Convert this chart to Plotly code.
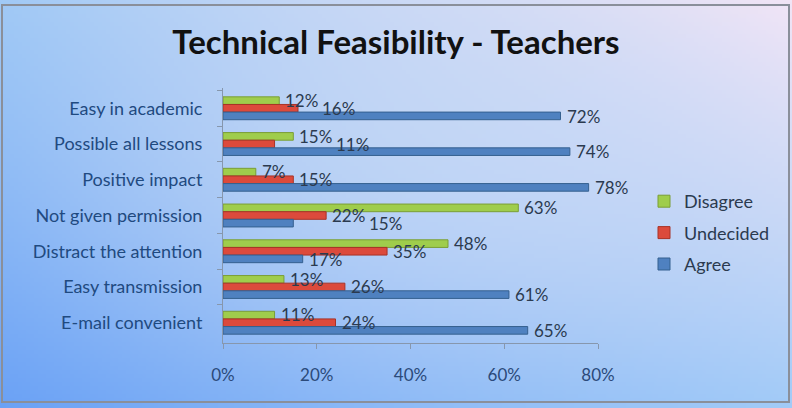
import base64, struct, zlib
import numpy as np
import plotly.graph_objects as go

categories = ["Easy in academic", "Possible all lessons", "Positive impact",
              "Not given permission", "Distract the attention",
              "Easy transmission", "E-mail convenient"]
disagree = [0.12, 0.15, 0.07, 0.63, 0.48, 0.13, 0.11]
undecided = [0.16, 0.11, 0.15, 0.22, 0.35, 0.26, 0.24]
agree = [0.72, 0.74, 0.78, 0.15, 0.17, 0.61, 0.65]
x_ticks = [0, 0.2, 0.4, 0.6, 0.8]

W, H = 792, 408
ML, MR, MT, MB = 223, 194, 88, 65
PW, PH = W - ML - MR, H - MT - MB
XMAX = 0.8
BARGAP = 0.36
LABEL_SIZE = 17


def gradient_png(w, h):
    xs = np.linspace(0, 1, w)[None, :]
    ys = np.linspace(0, 1, h)[:, None]
    tl = np.array([158, 200, 245.0])
    tr = np.array([246, 230, 246.0])
    bl = np.array([104, 160, 245.0])
    br = np.array([160, 202, 248.0])
    img = (tl * ((1 - xs) * (1 - ys))[..., None] + tr * (xs * (1 - ys))[..., None]
           + bl * ((1 - xs) * ys)[..., None] + br * (xs * ys)[..., None])
    bump = np.exp(-(((xs - 0.55) / 0.45) ** 2 + ((ys - 0.4) / 0.5) ** 2))[..., None]
    img = img + bump * (np.array([205, 222, 246.0]) - img) * 0.55
    img = np.clip(img, 0, 255).astype(np.uint8)
    raw = b"".join(b"\x00" + img[r].tobytes() for r in range(h))

    def chunk(t, d):
        c = struct.pack(">I", len(d)) + t + d
        return c + struct.pack(">I", zlib.crc32(t + d) & 0xffffffff)
    png = b"\x89PNG\r\n\x1a\n" + chunk(b"IHDR", struct.pack(">IIBBBBB", w, h, 8, 2, 0, 0, 0))
    png += chunk(b"IDAT", zlib.compress(raw, 9)) + chunk(b"IEND", b"")
    return "data:image/png;base64," + base64.b64encode(png).decode()


series = [("Disagree", disagree, "#9fcd4c", "#7a9e35"),
          ("Undecided", undecided, "#dc4a3c", "#a83226"),
          ("Agree", agree, "#4f81c0", "#35608f")]

fig = go.Figure()
for name, vals, col, edge in series:
    fig.add_trace(go.Bar(
        y=categories, x=vals, name=name, orientation="h",
        marker=dict(color=col, line=dict(color=edge, width=1)),
        legendgroup=name, hoverinfo="x+y+name",
    ))

# value labels: placed at bar ends, nudged right when they would collide
bar_px = PH / len(categories) * (1 - BARGAP) / len(series)


def text_w(s):
    return sum(0.82 if ch == "%" else 0.58 for ch in s) * LABEL_SIZE


annotations = []
for ci, cat in enumerate(categories):
    placed = []
    for si, (name, vals, col, edge) in enumerate(series):
        v = vals[ci]
        txt = f"{round(v * 100)}%"
        w = text_w(txt)
        yc = (1 - si) * bar_px
        x0 = v / XMAX * PW + 4
        moved = True
        while moved:
            moved = False
            for (p0, p1, py) in placed:
                if abs(py - yc) < LABEL_SIZE * 1.05 and x0 < p1 and x0 + w > p0:
                    x0 = p1 + 3
                    moved = True
        placed.append((x0, x0 + w, yc))
        annotations.append(dict(
            x=v, y=cat, xref="x", yref="y", text=txt, showarrow=False,
            xanchor="left", yanchor="middle",
            xshift=x0 - v / XMAX * PW, yshift=yc,
            font=dict(family="Lato", size=LABEL_SIZE, color="#2b3a4f")))

fig.update_layout(
    width=W, height=H,
    margin=dict(l=ML, r=MR, t=MT, b=MB),
    paper_bgcolor="#a8cdf5", plot_bgcolor="rgba(0,0,0,0)",
    barmode="group", bargap=BARGAP, bargroupgap=0,
    title=dict(text="<b>Technical Feasibility - Teachers</b>", x=0.5, xref="container",
               xanchor="center", y=1 - 42 / H, yanchor="middle",
               font=dict(family="Lato", size=33, color="#111111")),
    legend=dict(x=(644 - ML) / PW, xanchor="left", y=1 - (183 - MT) / PH, yanchor="top",
                font=dict(family="Lato", size=18, color="#2b3a4f"),
                bgcolor="rgba(0,0,0,0)", tracegroupgap=5, itemwidth=30),
    xaxis=dict(range=[0, XMAX], tickvals=x_ticks, tickformat=".0%", showgrid=False,
               zeroline=False, showline=True, linecolor="#8797ad", linewidth=1,
               ticks="outside", ticklen=5, tickcolor="#8797ad", ticklabelstandoff=12,
               tickfont=dict(family="Lato", size=17, color="#2b4a7a")),
    yaxis=dict(autorange="reversed", showgrid=False, zeroline=False, showline=True,
               linecolor="#8797ad", linewidth=1, ticks="outside", ticklen=5,
               tickcolor="#8797ad", tickson="boundaries", ticklabelstandoff=16,
               tickfont=dict(family="Lato", size=18, color="#1f4a80")),
    annotations=annotations,
    images=[dict(source=gradient_png(198, 102), xref="paper", yref="paper",
                 x=-ML / PW, y=1 + MT / PH, sizex=W / PW, sizey=H / PH,
                 xanchor="left", yanchor="top", sizing="stretch", layer="below")],
    shapes=[dict(type="rect", xref="paper", yref="paper",
                 x0=(2 - ML) / PW, x1=(789 - ML) / PW,
                 y0=1 - (402 - MT) / PH, y1=1 - (5 - MT) / PH,
                 line=dict(color="#8a8f9a", width=2), layer="above")],
)

fig.write_html("out.html")
